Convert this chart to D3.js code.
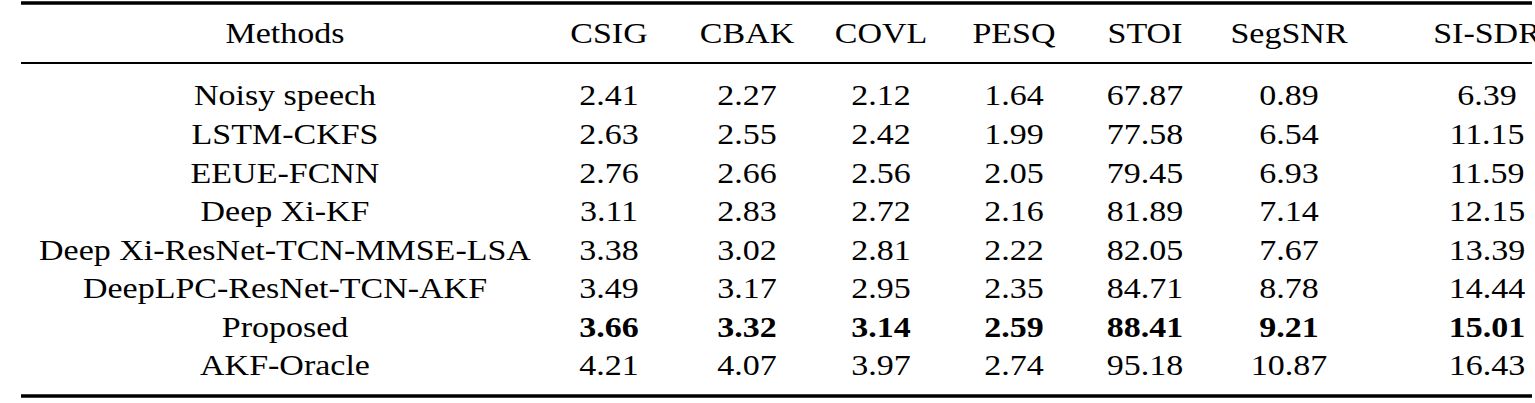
<!DOCTYPE html><html><head><script src="https://cdn.jsdelivr.net/npm/d3@7"></script>
<style>body{margin:0;background:#fff}</style></head><body><svg id="c" width="1535" height="403"></svg>
<script>
const headers=["Methods","CSIG","CBAK","COVL","PESQ","STOI","SegSNR","SI-SDR"];
const methods=["Noisy speech","LSTM-CKFS","EEUE-FCNN","Deep Xi-KF","Deep Xi-ResNet-TCN-MMSE-LSA","DeepLPC-ResNet-TCN-AKF","Proposed","AKF-Oracle"];
const CSIG=["2.41","2.63","2.76","3.11","3.38","3.49","3.66","4.21"];
const CBAK=["2.27","2.55","2.66","2.83","3.02","3.17","3.32","4.07"];
const COVL=["2.12","2.42","2.56","2.72","2.81","2.95","3.14","3.97"];
const PESQ=["1.64","1.99","2.05","2.16","2.22","2.35","2.59","2.74"];
const STOI=["67.87","77.58","79.45","81.89","82.05","84.71","88.41","95.18"];
const SegSNR=["0.89","6.54","6.93","7.14","7.67","8.78","9.21","10.87"];
const SISDR=["6.39","11.15","11.59","12.15","13.39","14.44","15.01","16.43"];
const boldRow="Proposed";
const cols=[methods,CSIG,CBAK,COVL,PESQ,STOI,SegSNR,SISDR];
const svg=d3.select("#c");
const x=d3.scaleOrdinal().domain(headers).range([285,609,747,881,1014,1145,1289,1487]);
const y=d3.scalePoint().domain(d3.range(methods.length)).range([95,365]);
const F="'Liberation Serif','Times New Roman',serif";
const fs=34;
function put(sel,xx,yy){sel.attr("transform",`translate(${xx},${yy}) scale(1,0.88)`).attr("dy","0.35em")
 .attr("text-anchor","middle").attr("font-family",F).attr("font-size",fs);}
svg.selectAll(".h").data(headers).join("text").each(function(d){put(d3.select(this),x(d),33);}).text(d=>d);
headers.forEach((h,ci)=>{
 svg.selectAll(".c"+ci).data(cols[ci]).join("text").each(function(d,i){put(d3.select(this),x(h),y(i));})
  .attr("font-weight",(d,i)=>ci>0&&methods[i]===boldRow?"bold":"normal").text(d=>d);
});
[[3,3.5],[63,2],[396,3.5]].forEach(([yy,w])=>svg.append("line").attr("x1",21).attr("x2",1532).attr("y1",yy).attr("y2",yy).attr("stroke","#000").attr("stroke-width",w));
</script></body></html>
